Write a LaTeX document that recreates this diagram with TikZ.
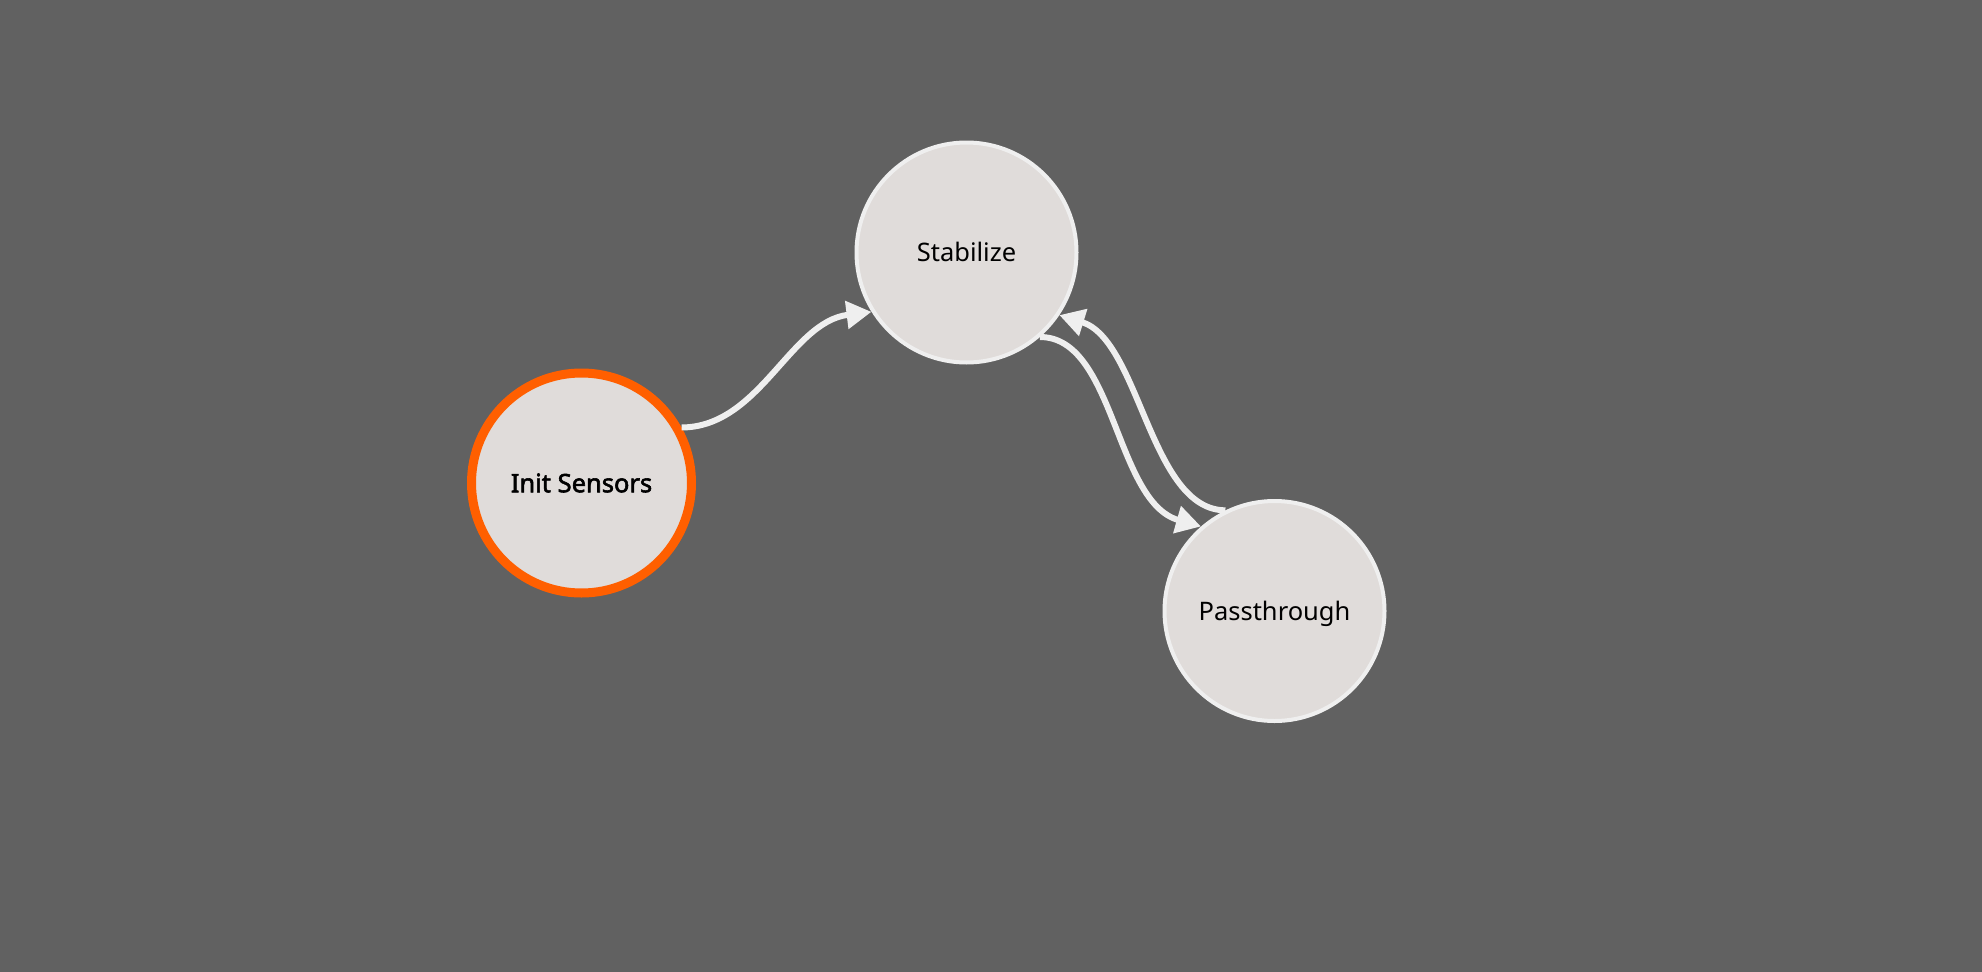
\documentclass[tikz,border=0pt]{standalone}
\usepackage{fontspec}
\setmainfont{Noto Sans}
\newfontfamily\boldfam{Noto Sans}[FakeBold=2.2]
\usetikzlibrary{arrows.meta}
\definecolor{bgc}{HTML}{616161}
\definecolor{fillc}{HTML}{E0DCDA}
\definecolor{linec}{HTML}{EFEFEF}
\definecolor{orangec}{HTML}{FF5F00}
\tikzset{
  state/.style={circle, minimum size=220pt, inner sep=0pt, fill=fillc, draw=linec, line width=4pt,
    font=\fontsize{25.5}{30}\selectfont, text=black, text height=18.5pt, text depth=0pt},
  initstate/.style={state, draw=orangec, line width=9pt, font=\boldfam\fontsize{25.5}{30}\selectfont},
  edge/.style={draw=linec, line width=6pt, -{Triangle[length=25pt,width=27pt]}}
}
\begin{document}
\begin{tikzpicture}[x=1pt,y=-1pt]
\fill[bgc] (0,0) rectangle (1982,972);
\useasboundingbox (0,0) rectangle (1982,972);
\node[state] (stab) at (966.5,252.5) {Stabilize};
\node[initstate] (init) at (581.5,483) {Init Sensors};
\node[state] (pass) at (1274.5,611) {Passthrough};
\draw[edge] (init.29) .. controls (760,427) and (790,322) .. (stab.212);
\draw[edge] (stab.-49) .. controls (1115,337) and (1115,502) .. (pass.131);
\draw[edge] (pass.116) .. controls (1150,510) and (1140,340) .. (stab.-34);
\end{tikzpicture}
\end{document}
